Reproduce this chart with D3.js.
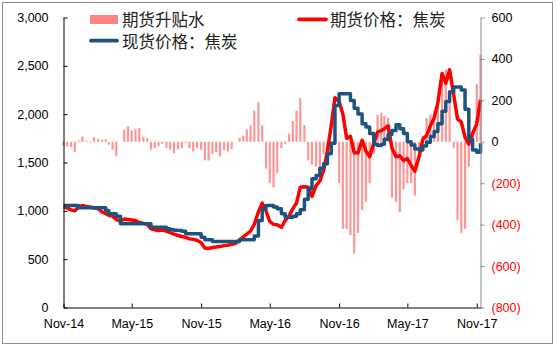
<!DOCTYPE html>
<html><head><meta charset="utf-8">
<script src="https://cdn.jsdelivr.net/npm/d3@7"></script>
<style>body{margin:0;background:#fff}svg{display:block}</style>
</head><body><svg id="c" width="557" height="347"></svg>
<script>
// dates: 1st, 11th, 21st of each month
const dates = [
"2014-11-01","2014-11-11","2014-11-21","2014-12-01","2014-12-11","2014-12-21",
"2015-01-01","2015-01-11","2015-01-21","2015-02-01","2015-02-11","2015-02-21",
"2015-03-01","2015-03-11","2015-03-21","2015-04-01","2015-04-11","2015-04-21",
"2015-05-01","2015-05-11","2015-05-21","2015-06-01","2015-06-11","2015-06-21",
"2015-07-01","2015-07-11","2015-07-21","2015-08-01","2015-08-11","2015-08-21",
"2015-09-01","2015-09-11","2015-09-21","2015-10-01","2015-10-11","2015-10-21",
"2015-11-01","2015-11-11","2015-11-21","2015-12-01","2015-12-11","2015-12-21",
"2016-01-01","2016-01-11","2016-01-21","2016-02-01","2016-02-11","2016-02-21",
"2016-03-01","2016-03-11","2016-03-21","2016-04-01","2016-04-11","2016-04-21",
"2016-05-01","2016-05-11","2016-05-21","2016-06-01","2016-06-11","2016-06-21",
"2016-07-01","2016-07-11","2016-07-21","2016-08-01","2016-08-11","2016-08-21",
"2016-09-01","2016-09-11","2016-09-21","2016-10-01","2016-10-11","2016-10-21",
"2016-11-01","2016-11-11","2016-11-21","2016-12-01","2016-12-11","2016-12-21",
"2017-01-01","2017-01-11","2017-01-21","2017-02-01","2017-02-11","2017-02-21",
"2017-03-01","2017-03-11","2017-03-21","2017-04-01","2017-04-11","2017-04-21",
"2017-05-01","2017-05-11","2017-05-21","2017-06-01","2017-06-11","2017-06-21",
"2017-07-01","2017-07-11","2017-07-21","2017-08-01","2017-08-11","2017-08-21",
"2017-09-01","2017-09-11","2017-09-21","2017-10-01","2017-10-11","2017-10-21",
"2017-11-01","2017-11-11"];

// 期货价格：焦炭 (left axis)
const futures = [
1038,1030,1010, 1000,1040,1055,
1045,1040,1031, 1020,990,970,
955,945,910, 895,915,910,
905,900,880, 870,860,814,
805,797,800, 790,775,760,
745,735,725, 710,705,695,
670,615,610, 620,625,630,
640,645,655, 665,700,730,
760,790,860, 990,1080,1000,
890,860,855, 830,900,945,
1020,1080,1245, 1250,1245,1150,
1260,1310,1420, 1620,1880,2170,
2130,2000,1750, 1770,1600,1600,
1730,1620,1560, 1700,1814,1831,
1850,1880,1650, 1560,1570,1520,
1540,1470,1410, 1560,1740,1780,
1880,1960,2120, 2420,2320,2460,
2200,1950,1920, 1760,1690,1800,
1900,2150];

// 现货价格：焦炭 (left axis)
const spot = [
1055,1055,1055, 1055,1031,1031,
1031,1031,1031, 1031,1031,1003,
969,969,945, 866,866,866,
866,866,866, 866,866,831,
831,831,831, 814,805,800,
797,790,762, 762,762,762,
728,700,700, 683,683,683,
683,683,683, 683,700,700,
700,700,740, 900,1021,1055,
1055,1040,1021, 969,934,934,
945,969,1010, 1120,1228,1331,
1366,1440,1486, 1590,1700,2090,
2210,2210,2210, 2141,2060,2003,
1900,1866,1800, 1690,1676,1690,
1740,1790,1830, 1890,1850,1800,
1715,1680,1640, 1630,1670,1710,
1770,1820,1900, 2030,2130,2230,
2280,2280,2250, 2050,1740,1630,
1607,1700];

// 期货升贴水 (right axis)
const basis = [
-20,-22,-25, -50,5,25,
5,-5,22, 15,10,13,
-14,-38,-70, 0,60,74,
55,60,66, 25,18,-38,
-30,-22,-10, -30,-38,-55,
-35,-30,-5, -30,-47,-30,
-38,-90,-90, -60,-50,-71,
-40,-47,-35, 0,20,28,
60,80,150, 190,80,-130,
-200,-220,-150, -30,-10,40,
100,150,210, 80,-90,-110,
-120,-150,-60, -42,-40,30,
-200,-420,-420, -450,-540,-440,
-330,-290,-200, -60,130,140,
125,115,-270, -290,-340,-230,
-200,-200,-260, -40,30,115,
130,150,190, 300,350,250,
-30,-380,-440, -420,-120,30,
280,420];

const leftTicks = [0,500,1000,1500,2000,2500,3000];
const rightTicks = [-800,-600,-400,-200,0,200,400,600];
const xTickDates = ["2014-11-01","2015-05-01","2015-11-01","2016-05-01","2016-11-01","2017-05-01","2017-11-01"];
const xTickLabels = ["Nov-14","May-15","Nov-15","May-16","Nov-16","May-17","Nov-17"];
const seriesNames = ["期货升贴水","期货价格：焦炭","现货价格：焦炭"];

const parse = d3.timeParse("%Y-%m-%d");
const D = dates.map(parse);
const svg = d3.select("#c");
const FONT = "Arial, 'Liberation Sans', sans-serif";
const CJK = "'Noto Sans CJK SC', sans-serif";
const RED = "#ff0000", BLUE = "#1d5380", PINK = "#ff8484";

svg.append("rect").attr("x",2.5).attr("y",2.5).attr("width",550).attr("height",341)
  .attr("fill","#fff").attr("stroke","#8c8c8c");

const x = d3.scaleTime().domain([parse("2014-11-01"), parse("2017-11-11")]).range([63.5, 480.5]);
const yL = d3.scaleLinear().domain([0,3000]).range([307.5,17.5]);
const yR = d3.scaleLinear().domain([-800,600]).range([307.5,17.5]);

// bars
svg.append("g").selectAll("rect").data(basis).join("rect")
  .attr("x",(d,i)=>x(D[i])-1.1)
  .attr("width",2.2)
  .attr("y",d=>Math.min(yR(d),yR(0)))
  .attr("height",d=>Math.abs(yR(d)-yR(0)))
  .attr("fill",PINK).attr("fill-opacity",0.85);

// lines
const lineF = d3.line().x((d,i)=>x(D[i])).y(d=>yL(d)).curve(d3.curveLinear);
const lineS = d3.line().x((d,i)=>x(D[i])).y(d=>yL(d)).curve(d3.curveStepAfter);
svg.append("path").datum(futures).attr("d",lineF).attr("fill","none")
  .attr("stroke",RED).attr("stroke-width",3.5).attr("stroke-linejoin","round");
svg.append("path").datum(spot).attr("d",lineS).attr("fill","none")
  .attr("stroke",BLUE).attr("stroke-width",3.5).attr("stroke-linejoin","round");

// axes
const gl = svg.append("g").attr("transform","translate(63.5,0)")
  .call(d3.axisLeft(yL).tickValues(leftTicks).tickFormat(d3.format(",")).tickSizeInner(-4).tickSizeOuter(0).tickPadding(15));
gl.select(".domain").attr("stroke","#000");
gl.selectAll(".tick line").attr("stroke","#000");
gl.selectAll("text").attr("font-family",FONT).attr("font-size",12.5).attr("fill","#000");

const gr = svg.append("g").attr("transform","translate(480.5,0)")
  .call(d3.axisRight(yR).tickValues(rightTicks)
    .tickFormat(d=> d<0 ? "("+d3.format(",")(-d)+")" : d3.format(",")(d))
    .tickSizeInner(4).tickSizeOuter(0).tickPadding(7));
gr.select(".domain").attr("stroke","#8c8c8c");
gr.selectAll(".tick line").attr("stroke","#8c8c8c");
gr.selectAll("text").attr("font-family",FONT).attr("font-size",12.5)
  .attr("fill",d=> d<0 ? RED : "#000");

const gb = svg.append("g").attr("transform","translate(0,307.5)")
  .call(d3.axisBottom(x).tickValues(xTickDates.map(parse))
    .tickFormat((d,i)=>xTickLabels[i]).tickSizeInner(-4).tickSizeOuter(0).tickPadding(11.5));
gb.select(".domain").attr("stroke","#000");
gb.selectAll(".tick line").attr("stroke","#000");
gb.selectAll("text").attr("font-family",FONT).attr("font-size",12.5).attr("fill","#000");

// legend
const lg = svg.append("g").attr("font-family",CJK).attr("font-size",16.5).attr("fill","#222");
lg.append("rect").attr("x",90).attr("y",15).attr("width",28).attr("height",9).attr("fill",PINK);
lg.append("text").attr("x",122).attr("y",25.5).text(seriesNames[0]);
lg.append("line").attr("x1",91).attr("x2",117).attr("y1",40.7).attr("y2",40.7)
  .attr("stroke",BLUE).attr("stroke-width",3.8).attr("stroke-linecap","round");
lg.append("text").attr("x",122).attr("y",47.5).text(seriesNames[2]);
lg.append("line").attr("x1",299).attr("x2",326).attr("y1",19.3).attr("y2",19.3)
  .attr("stroke",RED).attr("stroke-width",3.8).attr("stroke-linecap","round");
lg.append("text").attr("x",330).attr("y",25.5).text(seriesNames[1]);
</script></body></html>
